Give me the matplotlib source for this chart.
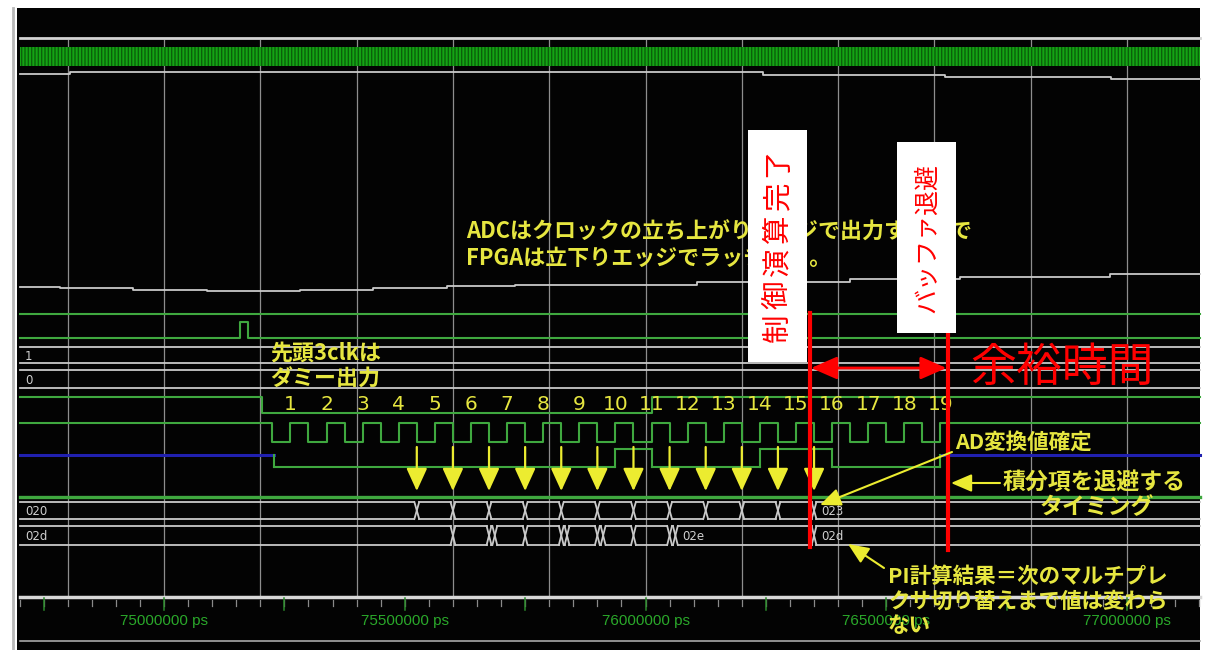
import matplotlib
matplotlib.use("Agg")
import matplotlib.pyplot as plt
from matplotlib.patches import Rectangle
import numpy as np

plt.rcParams["font.family"] = ["Noto Sans CJK JP", "DejaVu Sans"]

W, H = 1207, 650

# time window of the viewer (ps)
t_view = (74659400, 77166100)
t_trace = (74701000, 77151000)
grid_times = np.arange(74800000, 77000001, 200000)
label_times = [75000000, 75500000, 76000000, 76500000, 77000000]

# slowly changing status lines: step times and levels
status_a_t = [74701000, 74805000, 76244000, 76622000, 76967000]
status_a_y = [74, 72, 74.5, 76.5, 79]
status_b_t = [74701000, 74784000, 74935600, 75089300, 75282400, 75434000,
              75587700, 75729000, 76107000, 76424700, 76653100, 76964600]
status_b_y = [287, 288, 289.5, 291, 290, 288, 286, 285, 282, 279, 277, 274]

# start pulse
start_pulse = [75158000, 75174000]

# chip select edges (high -> low -> high)
cs_edges = [75203500, 76012500]

# ADC serial clock
clk_first_fall = 75225000
clk_period = 75000
clk_numbers = list(range(1, 20))
latch_numbers = list(range(5, 17))

# ADC serial data: edge times and level after each edge ('z' = high impedance)
sdata_t = [75229000, 75937500, 76012500, 76237500, 76387500, 76612500]
sdata_v = ["z", "0", "1", "0", "1", "0", "z"]

# register buses
bus_mux_edges = [75525000, 75600000, 75675000, 75750000, 75825000, 75900000,
                 75975000, 76050000, 76125000, 76200000, 76275000, 76350000]
bus_mux_vals = ["020", "", "", "", "", "", "", "", "", "", "", "", "023"]
bus_pi_edges = [75600000, 75675000, 75687000, 75750000, 75825000, 75837000,
                75900000, 75912000, 75975000, 76050000, 76062000, 76350000]
bus_pi_vals = ["02d", "", "", "", "", "", "", "", "", "", "", "02e", "02d"]

# timing markers (ps)
ctrl_done_t = 76341000
buffer_save_t = 76628000

GREEN = "#3fa83f"
WHITE = "#c9c9c9"
GRID = "#8e8e8e"
BLUE = "#2020b0"
YEL = "#ecec30"
YEL_TXT = "#e6e640"
RED = "#ff0000"

fig = plt.figure(figsize=(W / 100, H / 100), dpi=100, facecolor="white")
ax = fig.add_axes([0, 0, 1, 1])
ax.set_xlim(*t_view)
ax.set_ylim(H, 0)
ax.axis("off")

ov = fig.add_axes([0, 0, 1, 1])
ov.set_xlim(0, W)
ov.set_ylim(H, 0)
ov.axis("off")
ov.patch.set_alpha(0)

# viewer background
ax.add_patch(Rectangle((17 / W, 0), (1200 - 17) / W, (H - 8) / H,
                       transform=ax.transAxes, facecolor="#030303", lw=0, zorder=0))
ov.plot([13, 13], [8, H], color="#b8b8b8", lw=2)
ax.plot(t_trace, [38, 38], color="#d4d4d4", lw=2, zorder=2)

# vertical grid
for t in grid_times:
    ax.plot([t, t], [40, 596], color=GRID, lw=0.9, zorder=1)

# dense top clock
ax.fill_between(t_trace, 47, 66, facecolor="#14a414", edgecolor="#0a600a",
                hatch="|||||", lw=0, zorder=2)

# status lines
ax.plot(status_a_t + [t_trace[1]], status_a_y + [status_a_y[-1]],
        drawstyle="steps-post", color=WHITE, lw=1.3, zorder=3)
ax.plot(status_b_t + [t_trace[1]], status_b_y + [status_b_y[-1]],
        drawstyle="steps-post", color=WHITE, lw=1.3, zorder=3)

# plain lines
ax.plot(t_trace, [314, 314], color=GREEN, lw=1.5, zorder=3)
ax.plot([t_trace[0], start_pulse[0], start_pulse[0], start_pulse[1], start_pulse[1], t_trace[1]],
        [338, 338, 322, 322, 338, 338], color=GREEN, lw=1.5, zorder=3)
ax.plot(t_trace, [497, 497], color=GREEN, lw=2.4, zorder=3)

# chip select
ax.plot([t_trace[0], cs_edges[0], cs_edges[0], cs_edges[1], cs_edges[1], t_trace[1]],
        [397, 397, 413, 413, 397, 397], color=GREEN, lw=1.5, zorder=3)

# serial clock
clk_x = [t_trace[0]]
clk_y = [423]
for n in clk_numbers:
    f = clk_first_fall + (n - 1) * clk_period
    r = f + clk_period / 2
    clk_x += [f, f, r, r]
    clk_y += [423, 442, 442, 423]
clk_x.append(t_trace[1])
clk_y.append(423)
ax.plot(clk_x, clk_y, color=GREEN, lw=1.5, zorder=3)

for n in clk_numbers:
    t = clk_first_fall + (n - 1) * clk_period + clk_period / 2
    ax.text(t, 405, str(n), color=YEL_TXT, fontsize=14.5, ha="center", va="center",
            family="DejaVu Sans", zorder=6)

# serial data
level = {"z": 455, "0": 467, "1": 449}
bounds = [t_trace[0]] + sdata_t + [t_trace[1]]
for i, v in enumerate(sdata_v):
    ax.plot([bounds[i], bounds[i + 1]], [level[v], level[v]],
            color=BLUE if v == "z" else GREEN, lw=2.2 if v == "z" else 1.5, zorder=3)
for i, t in enumerate(sdata_t):
    ax.plot([t, t], [level[sdata_v[i]], level[sdata_v[i + 1]]], color=GREEN, lw=1.5, zorder=3)

# latch arrows on the falling edges
for n in latch_numbers:
    t = clk_first_fall + (n - 1) * clk_period
    ax.annotate("", xy=(t, 491), xytext=(t, 447),
                arrowprops=dict(arrowstyle="-|>,head_length=0.7,head_width=0.32",
                                color=YEL, lw=1.6, shrinkA=0, shrinkB=0,
                                mutation_scale=20), zorder=7)


def draw_bus(edges, vals, top, bot):
    d = 5000
    b = [t_trace[0]] + edges + [t_trace[1]]
    for i, v in enumerate(vals):
        a0 = b[i] + (d if i > 0 else 0)
        a1 = b[i + 1] - (d if i < len(vals) - 1 else 0)
        ax.plot([a0, a1], [top, top], color=WHITE, lw=1.3, zorder=3)
        ax.plot([a0, a1], [bot, bot], color=WHITE, lw=1.3, zorder=3)
        if v:
            ax.text(a0 + 10000, (top + bot) / 2 + 1, v, color="#cfcfcf", fontsize=8.5,
                    ha="left", va="center", family="DejaVu Sans", zorder=4)
    for e in edges:
        ax.plot([e - d, e + d], [top, bot], color=WHITE, lw=1.3, zorder=3)
        ax.plot([e - d, e + d], [bot, top], color=WHITE, lw=1.3, zorder=3)


draw_bus([], ["1"], 347, 363)
draw_bus([], ["0"], 370, 388)
draw_bus(bus_mux_edges, bus_mux_vals, 502, 519)
draw_bus(bus_pi_edges, bus_pi_vals, 526, 545)

# time ruler
ax.plot(t_trace, [597, 597], color="#d8d8d8", lw=2.5, zorder=3)
ax.plot(t_trace, [641, 641], color="#a8a8a8", lw=1.2, zorder=3)
for t in np.arange(74700000, 77150001, 50000):
    ax.plot([t, t], [600, 606], color="#8a8a8a", lw=0.9, zorder=3)
for t in np.arange(74750000, 77150001, 250000):
    ax.plot([t, t], [598, 610], color="#2a8a2a", lw=1.1, zorder=3)
for t in label_times:
    ax.text(t, 621, f"{t} ps", color="#2aa82a", fontsize=11, ha="center", va="center",
            family="Liberation Sans", zorder=4)

# timing markers
ax.plot([ctrl_done_t, ctrl_done_t], [313, 547], color=RED, lw=3, zorder=8)
ax.plot([buffer_save_t, buffer_save_t], [331, 550], color=RED, lw=3, zorder=8)
ax.annotate("", xy=(ctrl_done_t + 3000, 368), xytext=(buffer_save_t - 3000, 368),
            arrowprops=dict(arrowstyle="<|-|>,head_length=0.8,head_width=0.35",
                            color=RED, lw=2, shrinkA=0, shrinkB=0, mutation_scale=20),
            zorder=8)

# notes
bold = dict(color=YEL_TXT, fontweight="bold", va="center", ha="left", zorder=5)
ov.text(466, 232, "ADCはクロックの立ち上がりエッジで出力するので", fontsize=15.8, **bold)
ov.text(466, 258, "FPGAは立下りエッジでラッチする。", fontsize=15.8, **bold)
ov.text(270, 353, "先頭3clkは", fontsize=15.8, **bold)
ov.text(270, 379, "ダミー出力", fontsize=15.8, **bold)
ov.text(955, 442, "AD変換値確定", fontsize=15.5, **bold)
ov.text(1003, 483, "積分項を退避する", fontsize=16.5, **bold)
ov.text(1040, 508, "タイミング", fontsize=16.5, **bold)
ov.text(888, 576, "PI計算結果＝次のマルチプレ", fontsize=15.5, **bold)
ov.text(888, 601, "クサ切り替えまで値は変わら", fontsize=15.5, **bold)
ov.text(888, 626, "ない", fontsize=15.5, **bold)

arrow_y = dict(arrowstyle="-|>,head_length=0.7,head_width=0.3", color=YEL, lw=1.5,
               shrinkA=0, shrinkB=0, mutation_scale=18)
ov.annotate("", xy=(820, 505), xytext=(952, 452), arrowprops=arrow_y)
ov.annotate("", xy=(951, 483), xytext=(1000, 483), arrowprops=arrow_y)
ov.annotate("", xy=(848, 544), xytext=(884, 568), arrowprops=arrow_y)

# marker captions
ov.add_patch(Rectangle((748, 130), 59, 232, facecolor="white", lw=0, zorder=9))
ov.add_patch(Rectangle((897, 142), 59, 191, facecolor="white", lw=0, zorder=9))
for i, ch in enumerate("制御演算完了"):
    ov.text(778, 328 - i * 33, ch, rotation=90, color=RED, fontsize=20.5,
            ha="center", va="center", zorder=10)
ov.text(927, 238, "バッファ退避", rotation=90, color=RED, fontsize=18,
        ha="center", va="center", zorder=10)
ov.text(970, 368, "余裕時間", color=RED, fontsize=33, ha="left", va="center", zorder=10)

fig.savefig("out.png", dpi=100, facecolor="white")
